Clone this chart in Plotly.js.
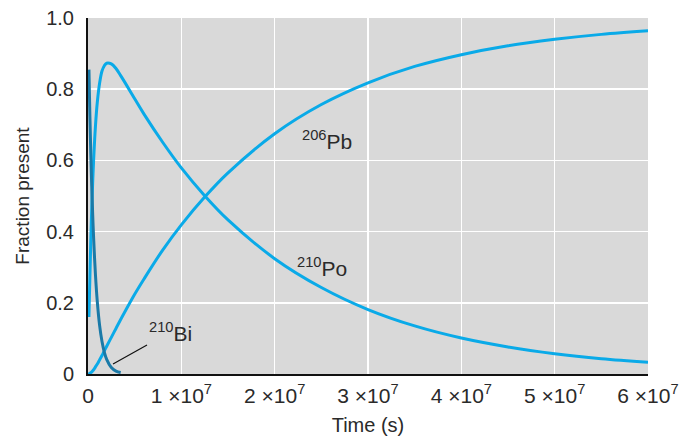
<!DOCTYPE html>
<html>
<head>
<meta charset="utf-8">
<script src="https://cdn.plot.ly/plotly-3.0.1.min.js"></script>
<style>html,body{margin:0;padding:0;background:#fff;}#chart{width:682px;height:438px;}</style>
</head>
<body>
<div id="chart"></div>
<script>
// Time (s)
const timeEarly = [1e5, 2e5, 3e5, 4e5, 5e5, 6e5, 8e5, 1e6, 1.25e6, 1.5e6, 1.75e6, 2e6, 2.5e6, 3e6, 3.5e6];
const bi210 = [0.855, 0.726, 0.619, 0.527, 0.449, 0.383, 0.278, 0.202, 0.135, 0.091, 0.061, 0.041, 0.018, 0.008, 0.004];

const timeFull = [1e5, 2e5, 3e5, 4e5, 5e5, 6e5, 8e5, 1e6, 1.25e6, 1.5e6, 1.75e6, 2e6, 2.5e6, 3e6, 3.5e6, 4e6, 5e6, 6e6, 8e6, 1e7, 1.25e7, 1.5e7, 2e7, 2.5e7, 3e7, 3.5e7, 4e7, 4.5e7, 5e7, 5.5e7, 6e7];
const po210 = [0.16, 0.27, 0.375, 0.464, 0.538, 0.600, 0.697, 0.764, 0.818, 0.851, 0.866, 0.873, 0.871, 0.858, 0.838, 0.817, 0.773, 0.730, 0.651, 0.579, 0.501, 0.433, 0.324, 0.243, 0.181, 0.135, 0.101, 0.076, 0.057, 0.043, 0.033];

const timePb = [0, 1e5, 2e5, 3e5, 4e5, 5e5, 6e5, 8e5, 1e6, 1.25e6, 1.5e6, 1.75e6, 2e6, 2.5e6, 3e6, 3.5e6, 4e6, 5e6, 6e6, 8e6, 1e7, 1.25e7, 1.5e7, 2e7, 2.5e7, 3e7, 3.5e7, 4e7, 4.5e7, 5e7, 5.5e7, 6e7];
const pb206 = [0, 0.0004, 0.0017, 0.0036, 0.006, 0.009, 0.012, 0.020, 0.028, 0.040, 0.052, 0.065, 0.078, 0.103, 0.128, 0.153, 0.177, 0.224, 0.267, 0.348, 0.419, 0.497, 0.565, 0.675, 0.757, 0.818, 0.864, 0.897, 0.922, 0.940, 0.954, 0.964];

const xTickVals = [0, 1e7, 2e7, 3e7, 4e7, 5e7, 6e7];
const xTickText = ['0', '1 \u00d710<sup>7</sup>', '2 \u00d710<sup>7</sup>', '3 \u00d710<sup>7</sup>', '4 \u00d710<sup>7</sup>', '5 \u00d710<sup>7</sup>', '6 \u00d710<sup>7</sup>'];
const yTickVals = [0, 0.2, 0.4, 0.6, 0.8, 1.0];
const yTickText = ['0', '0.2', '0.4', '0.6', '0.8', '1.0'];

const lightBlue = '#0aaae8';
const darkBlue = '#1a7aa8';
const font = 'Liberation Sans, Arial, sans-serif';
const textColor = '#2a2a2a';

const traces = [
  {x: timePb, y: pb206, mode: 'lines', line: {color: lightBlue, width: 3, shape: 'spline'}, hoverinfo: 'skip'},
  {x: timeFull, y: po210, mode: 'lines', line: {color: lightBlue, width: 3, shape: 'spline'}, hoverinfo: 'skip'},
  {x: timeEarly, y: bi210, mode: 'lines', line: {color: darkBlue, width: 3, shape: 'spline'}, hoverinfo: 'skip'}
];

const layout = {
  width: 682, height: 438,
  margin: {l: 88, r: 34, t: 18, b: 64},
  paper_bgcolor: '#ffffff',
  plot_bgcolor: '#d9d9d9',
  showlegend: false,
  font: {family: font, color: textColor, size: 20},
  xaxis: {
    range: [0, 6e7], tickvals: xTickVals, ticktext: xTickText,
    showgrid: true, gridcolor: '#ffffff', gridwidth: 1.5,
    zeroline: false, showline: true, linecolor: '#111', linewidth: 2,
    ticks: '', ticklabelstandoff: 2, tickfont: {size: 21, family: font, color: textColor},
    title: {text: 'Time (s)', font: {size: 20, family: font, color: textColor}, standoff: 12}
  },
  yaxis: {
    range: [0, 1], tickvals: yTickVals, ticktext: yTickText,
    showgrid: true, gridcolor: '#ffffff', gridwidth: 1.5,
    zeroline: false, showline: true, linecolor: '#111', linewidth: 2,
    ticks: '', ticklabelstandoff: 8, tickfont: {size: 20, family: font, color: textColor},
    title: {text: 'Fraction present', font: {size: 19, family: font, color: textColor}, standoff: 12}
  },
  annotations: [
    {x: 2.56e7, y: 0.657, xref: 'x', yref: 'y', text: '<sup>206</sup>Pb', showarrow: false, font: {size: 21, family: font, color: textColor}},
    {x: 2.51e7, y: 0.30, xref: 'x', yref: 'y', text: '<sup>210</sup>Po', showarrow: false, font: {size: 21, family: font, color: textColor}},
    {x: 2.68e6, y: 0.028, xref: 'x', yref: 'y', text: '<sup>210</sup>Bi', showarrow: true, arrowhead: 0, arrowwidth: 1.2, arrowcolor: '#111', ax: 57, ay: -32, standoff: 0, font: {size: 21, family: font, color: textColor}}
  ]
};

Plotly.newPlot('chart', traces, layout, {displayModeBar: false, staticPlot: true});
</script>
</body>
</html>
